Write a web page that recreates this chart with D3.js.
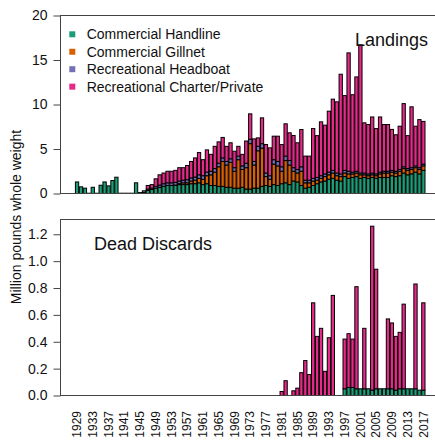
<!DOCTYPE html>
<html>
<head>
<meta charset="utf-8">
<script src="https://cdn.jsdelivr.net/npm/d3@7/dist/d3.min.js"></script>
<style>
  body { margin: 0; background: #fff; }
  text { font-family: "Liberation Sans", Arial, sans-serif; fill: #111; }
</style>
</head>
<body>
<svg id="chart" width="435" height="440"></svg>
<script>
// categories
var years = d3.range(1929, 2018);
var tickYears = [1929, 1933, 1937, 1941, 1945, 1949, 1953, 1957, 1961, 1965, 1969,
                 1973, 1977, 1981, 1985, 1989, 1993, 1997, 2001, 2005, 2009, 2013, 2017];
var seriesNames = ["Commercial Handline", "Commercial Gillnet", "Recreational Headboat", "Recreational Charter/Private"];
var seriesColors = ["#1b9e77", "#d95f02", "#7570b3", "#e7298a"];

// landings, million lb (1929 .. 2017)
var landHandline = [1.3, 0.75, 0.6, 0.03, 0.7, 0.03, 0.93, 1.3, 0.86, 1.46,
  1.83, 0.03, 0.03, 0.03, 0.03, 1.2, 0.1, 0.1, 0.35, 0.45,
  0.6, 0.7, 0.8, 0.9, 0.9, 0.9, 1.0, 1.0, 1.0, 1.1,
  1.1, 1.2, 1.0, 1.1, 0.9, 0.9, 0.8, 0.8, 0.7, 0.7,
  0.6, 0.6, 0.7, 0.5, 0.5, 0.6, 0.6, 0.8, 0.9, 0.8,
  1.0, 0.9, 1.1, 1.2, 1.0, 1.4, 1.3, 0.9, 0.6, 0.7,
  0.9, 1.1, 1.3, 1.4, 1.6, 1.7, 1.5, 1.4, 1.9, 1.7,
  1.8, 1.9, 1.7, 1.8, 1.7, 1.8, 1.7, 1.8, 1.8, 1.8,
  2.0, 1.9, 2.0, 2.3, 2.1, 2.2, 2.4, 2.2, 2.6];
var landGillnet = [0, 0, 0, 0, 0, 0, 0, 0, 0, 0,
  0, 0, 0, 0, 0, 0, 0, 0, 0, 0,
  0, 0, 0, 0, 0, 0.05, 0.1, 0.2, 0.2, 0.3,
  0.4, 0.5, 0.6, 0.9, 1.2, 1.5, 2.2, 2.8, 2.5, 2.8,
  1.9, 3.2, 2.0, 2.4, 5.1, 2.6, 4.2, 4.3, 1.0, 0.8,
  2.3, 2.2, 1.4, 2.5, 2.2, 1.1, 1.0, 1.6, 0.6, 0.5,
  0.5, 0.4, 0.4, 0.5, 0.5, 0.6, 0.5, 0.5, 0.4, 0.5,
  0.4, 0.4, 0.4, 0.3, 0.3, 0.3, 0.3, 0.4, 0.5, 0.5,
  0.4, 0.4, 0.5, 0.5, 0.5, 0.5, 0.5, 0.5, 0.5];
var landHeadboat = [0, 0, 0, 0, 0, 0, 0, 0, 0, 0,
  0, 0, 0, 0, 0, 0, 0, 0.2, 0.15, 0.15,
  0.2, 0.25, 0.3, 0.3, 0.3, 0.3, 0.3, 0.3, 0.35, 0.35,
  0.35, 0.4, 0.4, 0.4, 0.4, 0.4, 0.4, 0.4, 0.4, 0.4,
  0.4, 0.4, 0.4, 0.5, 0.5, 0.4, 0.5, 0.5, 0.4, 0.4,
  0.5, 0.5, 0.5, 0.5, 0.5, 0.4, 0.4, 0.5, 0.3, 0.3,
  0.3, 0.3, 0.3, 0.3, 0.3, 0.3, 0.3, 0.3, 0.3, 0.3,
  0.2, 0.2, 0.2, 0.2, 0.2, 0.2, 0.2, 0.2, 0.2, 0.2,
  0.2, 0.2, 0.2, 0.2, 0.2, 0.2, 0.2, 0.2, 0.2];
var landCharter = [0, 0, 0, 0, 0, 0, 0, 0, 0, 0,
  0, 0, 0, 0, 0, 0, 0, 0, 0.4, 0.4,
  0.85, 1.15, 1.2, 1.3, 1.3, 1.35, 1.5, 1.4, 1.6, 1.85,
  2.15, 2.5, 1.8, 2.5, 1.9, 2.5, 2.4, 2.3, 1.7, 1.8,
  1.85, 1.1, 1.3, 2.5, 2.85, 2.54, 0.95, 2.9, 3.2, 3.13,
  2.64, 2.84, 2.5, 3.63, 3.12, 3.62, 3.0, 4.19, 2.7, 2.7,
  5.6, 4.7, 6.05, 5.48, 6.85, 8.0, 8.0, 11.2, 8.4, 13.3,
  8.7, 10.6, 14.4, 5.64, 5.55, 6.3, 5.1, 6.2, 5.25, 5.25,
  4.6, 4.1, 4.86, 7.1, 3.7, 6.84, 4.46, 5.4, 4.8];

// dead discards, million lb (null = no estimate)
var discHandline = [null, null, null, null, null, null, null, null, null, null,
  null, null, null, null, null, null, null, null, null, null,
  null, null, null, null, null, null, null, null, null, null,
  null, null, null, null, null, null, null, null, null, null,
  null, null, null, null, null, null, null, null, null, null,
  null, null, 0, 0, null, 0, 0, 0, 0, 0,
  0, 0, 0, 0, 0, 0, null, null, 0.05, 0.06,
  0.06, 0.05, 0.05, 0.05, 0.05, 0.04, 0.05, 0.05, 0.05, 0.05,
  0.05, 0.04, 0.05, 0.05, 0.05, 0.05, 0.05, 0.04, 0.04];
var discCharter = [null, null, null, null, null, null, null, null, null, null,
  null, null, null, null, null, null, null, null, null, null,
  null, null, null, null, null, null, null, null, null, null,
  null, null, null, null, null, null, null, null, null, null,
  null, null, null, null, null, null, null, null, null, null,
  null, null, 0.03, 0.11, null, 0.035, 0.055, 0.17, 0.26, 0.156,
  0.69, 0.44, 0.5, 0.18, 0.43, 0.745, null, null, 0.37, 0.4,
  0.36, 0.76, 0, 0.45, 0, 1.22, 0.89, 0, 0, 0.52,
  0.49, 0.4, 0.42, 0.63, 0, 0, 0.78, 0, 0.65];

var svg = d3.select("#chart");

var x = d3.scaleBand()
          .domain(years)
          .range([75.4, 425])
          .paddingInner(0.2 / 1.2)
          .paddingOuter(0);

var yTop = d3.scaleLinear().domain([0, 20]).range([193.5, 15.5]);
var yBot = d3.scaleLinear().domain([0, 1.31]).range([395.5, 219.5]);

function drawPanel(y, layers) {
  var g = svg.append("g");
  years.forEach(function(yr, i) {
    var base = 0;
    layers.forEach(function(layer, k) {
      var v = layer[i];
      if (v === null || v === undefined || v <= 0) return;
      g.append("rect")
       .attr("x", x(yr))
       .attr("y", y(base + v))
       .attr("width", x.bandwidth())
       .attr("height", y(base) - y(base + v))
       .attr("fill", seriesColors[k])
       .attr("stroke", "#000")
       .attr("stroke-width", 1);
      base += v;
    });
  });
  return g;
}

drawPanel(yTop, [landHandline, landGillnet, landHeadboat, landCharter]);
drawPanel(yBot, [discHandline, [], [], discCharter]);

// panel boxes
[yTop, yBot].forEach(function(y) {
  svg.append("rect")
     .attr("x", 60.5)
     .attr("y", y.range()[1])
     .attr("width", 400)
     .attr("height", y.range()[0] - y.range()[1])
     .attr("fill", "none")
     .attr("stroke", "#444")
     .attr("stroke-width", 1);
});

var axTop = svg.append("g")
   .attr("transform", "translate(60.5,0)")
   .call(d3.axisLeft(yTop).tickValues([0, 5, 10, 15, 20]).tickSize(7).tickPadding(6));
var axBot = svg.append("g")
   .attr("transform", "translate(60.5,0)")
   .call(d3.axisLeft(yBot).tickValues([0, 0.2, 0.4, 0.6, 0.8, 1.0, 1.2])
         .tickFormat(d3.format(".1f")).tickSize(7).tickPadding(6));
[axTop, axBot].forEach(function(ax) {
  ax.select(".domain").remove();
  ax.selectAll("line").attr("stroke", "#444");
  ax.selectAll("text").style("font-size", "14px").attr("fill", "#111");
});

// rotated year labels
svg.append("g").selectAll("text")
   .data(tickYears)
   .enter()
   .append("text")
   .attr("transform", function(d) {
     return "translate(" + (x(d) + x.bandwidth() / 2) + ",411) rotate(-90)";
   })
   .attr("text-anchor", "end")
   .attr("dy", "0.35em")
   .style("font-size", "12px")
   .text(function(d) { return d; });

// y title
svg.append("text")
   .attr("transform", "translate(21,217) rotate(-90)")
   .attr("text-anchor", "middle")
   .style("font-size", "14px")
   .text("Million pounds whole weight");

// legend
var leg = svg.append("g").selectAll("g")
   .data(seriesNames)
   .enter()
   .append("g")
   .attr("transform", function(d, i) { return "translate(0," + (34.3 + i * 17.45) + ")"; });
leg.append("rect")
   .attr("x", 69.3).attr("y", -3)
   .attr("width", 6).attr("height", 6)
   .attr("fill", function(d, i) { return seriesColors[i]; });
leg.append("text")
   .attr("x", 86.7).attr("y", 5)
   .style("font-size", "14px")
   .text(function(d) { return d; });

// panel titles
svg.append("text")
   .attr("x", 428).attr("y", 46)
   .attr("text-anchor", "end")
   .style("font-size", "18px")
   .text("Landings");
svg.append("text")
   .attr("x", 94).attr("y", 250)
   .style("font-size", "18px")
   .text("Dead Discards");
</script>
</body>
</html>
